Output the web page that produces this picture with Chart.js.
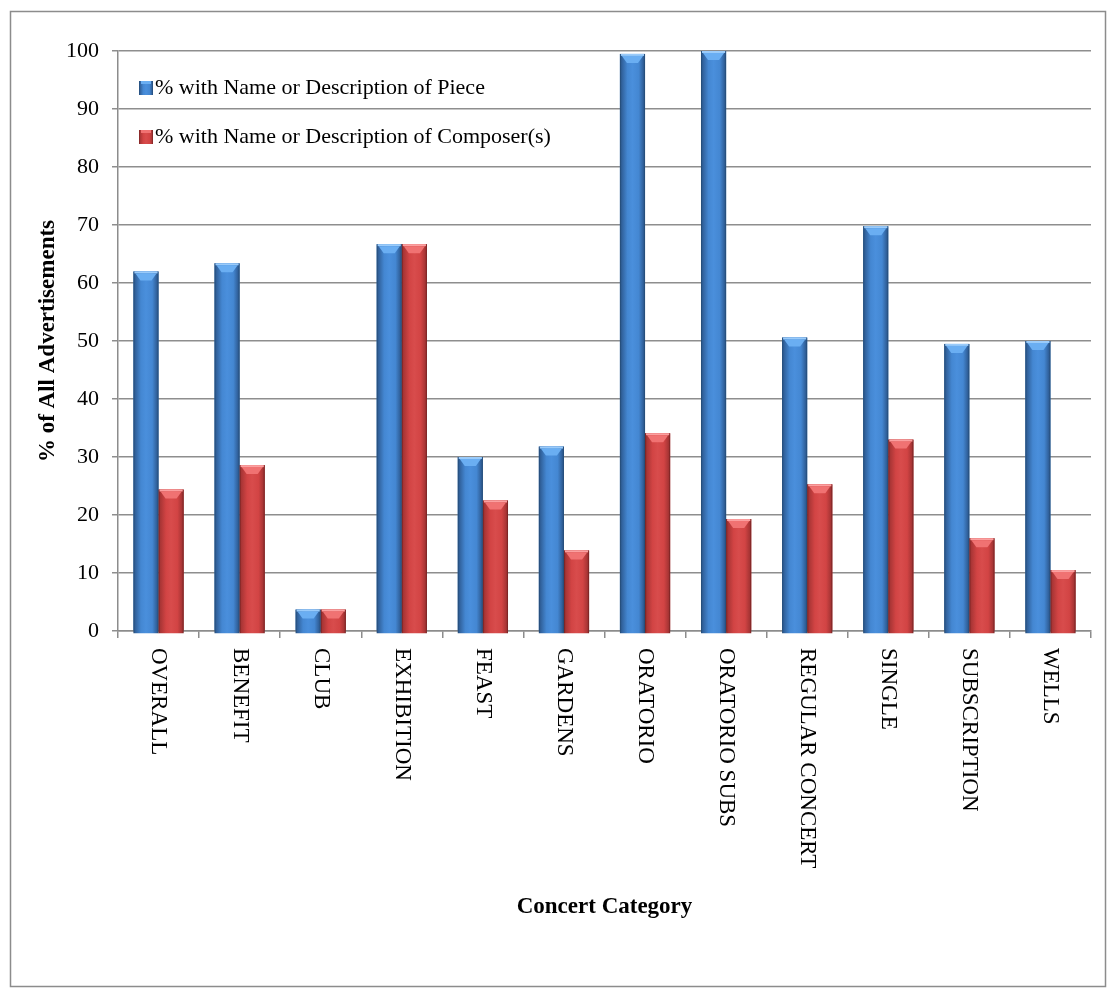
<!DOCTYPE html>
<html>
<head>
<meta charset="utf-8">
<title>Concert Category</title>
<script src="https://cdn.jsdelivr.net/npm/chart.js@4/dist/chart.umd.min.js"></script>
<style>
html,body{margin:0;padding:0;background:#fff}
#wrap{width:1116px;height:998px}
</style>
</head>
<body>
<div id="wrap"><canvas id="concertChart" width="1116" height="998"></canvas></div>
<script>

const categories = ["OVERALL","BENEFIT","CLUB","EXHIBITION","FEAST","GARDENS","ORATORIO","ORATORIO SUBS","REGULAR CONCERT","SINGLE","SUBSCRIPTION","WELLS"]

const pieceValues = [62.0,63.4,3.7,66.7,30.0,31.8,99.5,100.0,50.6,69.8,49.5,50.0]

const composerValues = [24.4,28.6,3.7,66.7,22.5,13.9,34.1,19.3,25.3,33.0,16.0,10.5]

const seriesNames = ["% with Name or Description of Piece","% with Name or Description of Composer(s)"]

const yTicks = [0,10,20,30,40,50,60,70,80,90,100]

const serif = "'Liberation Serif','Times New Roman',serif"



/* cylinder shading for each series */

const tones = [
{edge:"#22476f",dark:"#30609a",mid:"#4487d2",light:"#4a8fdc",cap:"#6aaef2",rim:"#9acbfa"},
{edge:"#6e1f1f",dark:"#a83535",mid:"#d24444",light:"#d84c4c",cap:"#f07272",rim:"#fba0a0"}
]

function shade(c,l,w,tone){

const g = c.createLinearGradient(l,0,l+w,0)
g.addColorStop(0,tone.edge)
g.addColorStop(0.07,tone.dark)
g.addColorStop(0.3,tone.mid)
g.addColorStop(0.5,tone.light)
g.addColorStop(0.75,tone.mid)
g.addColorStop(0.93,tone.dark)
g.addColorStop(1,tone.edge)
return g

}

const barLook = {
id:"barLook",
afterDatasetsDraw(chart){

const c = chart.ctx

chart.data.datasets.forEach((ds,i)=>{

const tone = tones[i]

chart.getDatasetMeta(i).data.forEach(bar=>{

const {x,y,base,width} = bar.getProps(["x","y","base","width"],true)
const l = x-width/2

c.save()
c.fillStyle = shade(c,l,width,tone)
c.fillRect(l,y,width,base-y+3)

// rounded top of the cylinder
c.fillStyle = tone.rim
c.fillRect(l+1,y,width-2,2)
c.fillStyle = tone.cap
c.beginPath()
c.moveTo(l+2,y+2)
c.lineTo(l+width-2,y+2)
c.lineTo(x+width*0.22,y+9)
c.lineTo(x-width*0.22,y+9)
c.closePath()
c.fill()
c.restore()

})

})

}
}



/* frame, rotated category names and legend */

const extras = {
id:"extras",
beforeDraw(chart){

const c = chart.ctx
c.save()
c.fillStyle = "#fff"
c.fillRect(0,0,chart.width,chart.height)
c.strokeStyle = "#8c8c8c"
c.lineWidth = 1.5
c.strokeRect(10.5,11.5,1095,975)
c.restore()

},
afterDraw(chart){

const c = chart.ctx
const xs = chart.scales.x

c.save()
c.fillStyle = "#000"
c.font = "23px "+serif
c.textAlign = "left"
c.textBaseline = "middle"

categories.forEach((name,i)=>{
const px = xs.getPixelForValue(i)
c.save()
c.translate(px,xs.top+17)
c.rotate(Math.PI/2)
c.fillText(name,0,0)
c.restore()
})

const area = chart.chartArea
c.font = "22px "+serif

chart.data.datasets.forEach((ds,i)=>{
const cy = area.top+37+i*49
const tone = tones[i]
c.fillStyle = shade(c,area.left+21,14,tone)
c.fillRect(area.left+21,cy-7,14,14)
c.fillStyle = tone.cap
c.fillRect(area.left+23,cy-7,10,3)
c.fillStyle = "#000"
c.fillText(ds.label,area.left+37,cy)
})

c.restore()

}
}



const concertChart = new Chart(

document.getElementById("concertChart"),

{

type:"bar",

data:{

labels:categories,

datasets:[
{label:seriesNames[0],data:pieceValues,backgroundColor:tones[0].mid},
{label:seriesNames[1],data:composerValues,backgroundColor:tones[1].mid}
]

},

options:{

responsive:false,
animation:false,
events:[],

layout:{padding:{left:0,top:51,right:25,bottom:73}},

datasets:{bar:{categoryPercentage:0.62,barPercentage:1}},

plugins:{
legend:{display:false},
tooltip:{enabled:false}
},

scales:{

x:{
grid:{display:true,drawOnChartArea:false,drawTicks:true,tickLength:7,color:"#8c8c8c",lineWidth:1.5,offset:true},
border:{display:true,color:"#8c8c8c",width:1.5},
ticks:{display:false},
title:{display:true,text:"Concert Category",color:"#000",font:{family:serif,size:23,weight:"bold"},padding:{top:0,bottom:4}},
afterFit:s=>{s.height = 294}
},

y:{
min:0,
max:100,
afterBuildTicks:s=>{s.ticks = yTicks.map(v=>({value:v}))},
grid:{color:"#8e8e8e",lineWidth:1.5,tickLength:6,drawTicks:true},
border:{display:true,color:"#8c8c8c",width:1.5},
ticks:{color:"#000",padding:13,font:{family:serif,size:22}},
title:{display:true,text:"% of All Advertisements",color:"#000",font:{family:serif,size:23,weight:"bold"},padding:{top:34,bottom:0}},
afterFit:s=>{s.width = 118}
}

}

},

plugins:[extras,barLook]

}

)

</script>
</body>
</html>
